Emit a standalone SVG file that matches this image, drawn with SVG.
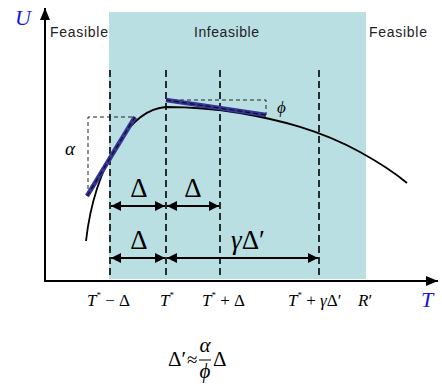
<svg xmlns="http://www.w3.org/2000/svg" width="442" height="390" viewBox="0 0 442 390">
<defs>
<marker id="ah" viewBox="0 0 10 10" refX="10" refY="5" markerWidth="10" markerHeight="10" markerUnits="userSpaceOnUse" orient="auto-start-reverse"><path d="M0,0 L10,5 L0,10 z" fill="#000"/></marker>
<marker id="axh" viewBox="0 0 12 10" refX="12" refY="5" markerWidth="12" markerHeight="10" markerUnits="userSpaceOnUse" orient="auto"><path d="M0,0 L12,5 L0,10 z" fill="#000"/></marker>
<style>
.vd{stroke:#000;stroke-width:1.6;stroke-dasharray:7,4;fill:none}
.bd{stroke:#222;stroke-width:1;stroke-dasharray:4,3;fill:none}
.blue{stroke:#35359a;stroke-width:4.5;fill:none}
.bdash{stroke:#111;stroke-width:1.2;stroke-dasharray:5,3;fill:none}
.arr{stroke:#000;stroke-width:2;fill:none;marker-start:url(#ah);marker-end:url(#ah)}
.sans{font-family:"Liberation Sans",Arial,sans-serif;font-size:14px;fill:#222}
.m{font-family:"Liberation Serif","Times New Roman",serif;fill:#000}
.i{font-style:italic}
</style>
</defs>
<rect id="region" x="109" y="12" width="257" height="267" fill="#b9dfe3"/>
<g id="labels">
<text class="sans" x="50" y="37" textLength="58">Feasible</text>
<text class="sans" x="194" y="37" textLength="65">Infeasible</text>
<text class="sans" x="369" y="37" textLength="58">Feasible</text>
</g>
<g id="axes">
<line x1="45" y1="281" x2="45" y2="8" stroke="#000" stroke-width="2" marker-end="url(#axh)"/>
<line x1="44" y1="281" x2="438" y2="281" stroke="#000" stroke-width="2" marker-end="url(#axh)"/>
<text class="m i" x="15" y="25" font-size="22" style="fill:#1515e0">U</text>
<text class="m i" x="421" y="307" font-size="22" style="fill:#1515e0">T</text>
</g>
<g id="guides">
<line class="vd" x1="110" y1="70" x2="110" y2="278"/>
<line class="vd" x1="166" y1="70" x2="166" y2="278"/>
<line class="vd" x1="220" y1="70" x2="220" y2="278"/>
<line class="vd" x1="319" y1="70" x2="319" y2="278"/>
</g>
<g id="curve">
<path d="M86,241 C90,205 100,172 118,143 C134,118 150,108 166,107 C190,107 215,109 240,113 C280,120 320,130 360,152 C380,163 395,173 407,183" fill="none" stroke="#000" stroke-width="1.8"/>
</g>
<g id="alpha">
<path class="bd" d="M88,196 L88,117 L135,117"/>
<line class="blue" x1="87" y1="196" x2="135" y2="117"/>
<line class="bdash" x1="87" y1="196" x2="135" y2="117"/>
<text class="m i" x="65" y="155" font-size="19">α</text>
</g>
<g id="phi">
<path class="bd" d="M166,100 L266,100 L266,115"/>
<line class="blue" x1="166" y1="100" x2="266" y2="115"/>
<line class="bdash" x1="166" y1="100" x2="266" y2="115"/>
<text class="m i" x="277" y="113" font-size="17">ϕ</text>
</g>
<g id="connectors">
<line class="arr" x1="111" y1="206" x2="165" y2="206"/>
<line class="arr" x1="167" y1="206" x2="219" y2="206"/>
<line class="arr" x1="111" y1="258" x2="165" y2="258"/>
<line class="arr" x1="167" y1="258" x2="318" y2="258"/>
</g>
<g id="deltas">
<text class="m" x="139" y="197" font-size="27" text-anchor="middle">Δ</text>
<text class="m" x="193" y="197" font-size="27" text-anchor="middle">Δ</text>
<text class="m" x="139" y="249" font-size="27" text-anchor="middle">Δ</text>
<text class="m" x="248" y="249" font-size="27" text-anchor="middle"><tspan class="i">γ</tspan>Δ′</text>
</g>
<g id="ticks">
<text class="m" x="87" y="306" font-size="17"><tspan class="i">T</tspan><tspan font-size="9" dy="-8">*</tspan><tspan dy="8"> − Δ</tspan></text>
<text class="m" x="160" y="306" font-size="17"><tspan class="i">T</tspan><tspan font-size="9" dy="-8">*</tspan></text>
<text class="m" x="202" y="306" font-size="17"><tspan class="i">T</tspan><tspan font-size="9" dy="-8">*</tspan><tspan dy="8"> + Δ</tspan></text>
<text class="m" x="288" y="306" font-size="17"><tspan class="i">T</tspan><tspan font-size="9" dy="-8">*</tspan><tspan dy="8"> + </tspan><tspan class="i">γ</tspan>Δ′</text>
<text class="m" x="358" y="306" font-size="17"><tspan class="i">R</tspan>′</text>
</g>
<g id="formula">
<text class="m" x="168" y="366" font-size="21">Δ′</text>
<text class="m" x="187" y="366" font-size="19">≈</text>
<text class="m i" x="205" y="352" font-size="21" text-anchor="middle">α</text>
<line x1="199" y1="360" x2="211" y2="360" stroke="#000" stroke-width="1"/>
<text class="m i" x="205" y="378" font-size="21" text-anchor="middle">ϕ</text>
<text class="m" x="213" y="366" font-size="21">Δ</text>
</g>
</svg>
